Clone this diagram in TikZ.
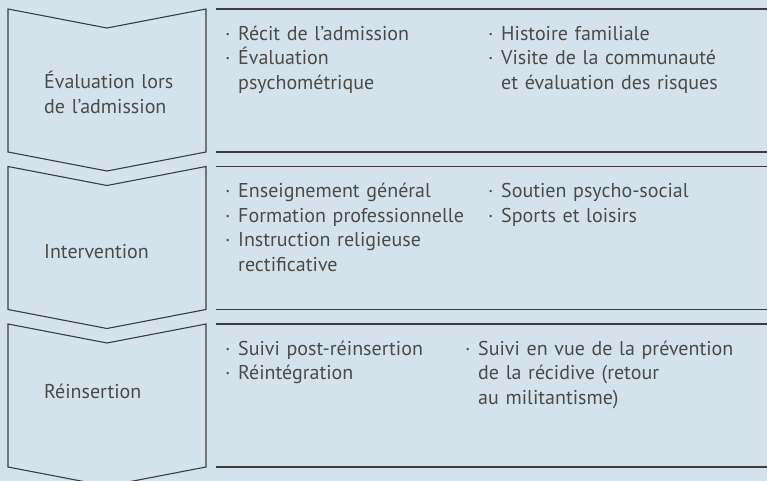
\documentclass[tikz,border=0pt]{standalone}
\usepackage{fontspec}
\setmainfont{PT Sans}
\definecolor{panel}{HTML}{D4E3EB}
\definecolor{ink}{HTML}{3C3C3C}
\definecolor{type}{HTML}{4A4A4A}
\newcommand\itm{\makebox[13pt][l]{·}}
\newcommand\cnt{\hspace*{13pt}}

\begin{document}
\begin{tikzpicture}
[x=1pt,y=-1pt,
 stage/.style={anchor=base west,inner sep=0pt,align=left,text=type,
               text width=275pt,font=\fontsize{20}{24.5}\selectfont},
 frame/.style={draw=ink,line width=1.1pt,line join=miter}]
\fill[panel] (0,0) rectangle (767,481);
\useasboundingbox (0,0) rectangle (767,481);
% chevrons and rules
\foreach \t in {9,166.5,324}{
  \draw[frame] (8,\t) -- (107,\t+19) -- (206,\t) -- (206,\t+143)
    -- (107,\t+162) -- (8,\t+143) -- cycle;
  \draw[frame] (216,\t) -- (767,\t);
  \draw[frame] (216,\t+143) -- (767,\t+143);
}
% stage names
\node[stage] (eval) at (44,89) {Évaluation lors\\de l’admission};
\node[stage] (interv) at (44,258) {Intervention};
\node[stage] (reins) at (44,398) {Réinsertion};
% items
\node[stage] (evalA) at (225,40.5)
  {\itm Récit de l’admission\\ \itm Évaluation\\ \cnt psychométrique};
\node[stage] (evalB) at (488,40.5)
  {\itm Histoire familiale\\ \itm Visite de la communauté\\
   \cnt et évaluation des risques};
\node[stage] (intervA) at (225,197.5)
  {\itm Enseignement général\\ \itm Formation professionnelle\\
   \itm Instruction religieuse\\ \cnt rectificative};
\node[stage] (intervB) at (488,197.5)
  {\itm Soutien psycho-social\\ \itm Sports et loisirs};
\node[stage] (reinsA) at (225,355)
  {\itm Suivi post-réinsertion\\ \itm Réintégration};
\node[stage] (reinsB) at (465,355)
  {\itm Suivi en vue de la prévention\\ \cnt de la récidive (retour\\
   \cnt au militantisme)};
\end{tikzpicture}
\end{document}
